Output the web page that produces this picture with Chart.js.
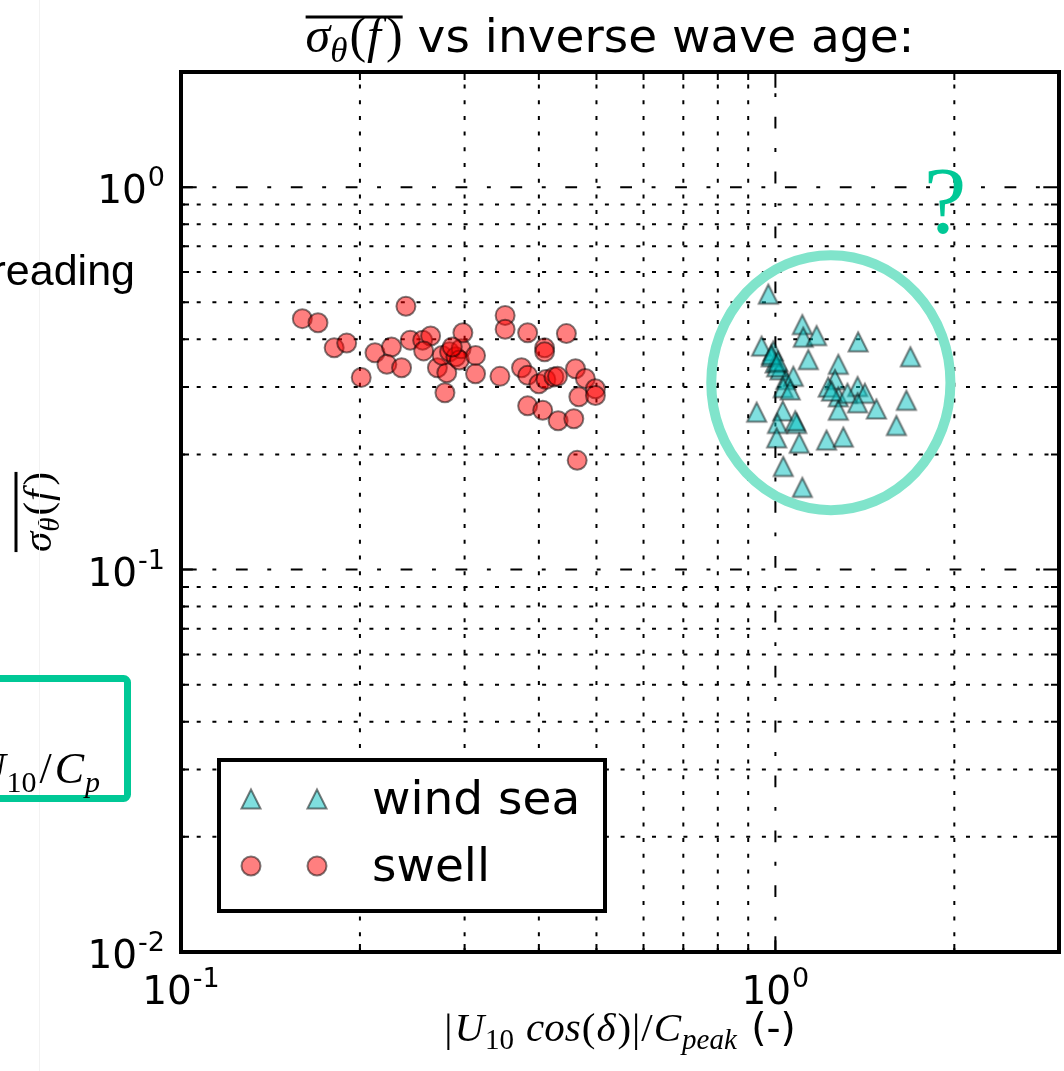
<!DOCTYPE html>
<html>
<head>
<meta charset="utf-8">
<script src="https://cdn.jsdelivr.net/npm/chart.js@4.4.0/dist/chart.umd.min.js"></script>
<style>
  html, body { margin: 0; padding: 0; background: #fff; }
  #wrap { position: relative; width: 1064px; height: 1071px; overflow: hidden; }
</style>
</head>
<body>
<div id="wrap"><canvas id="chart" width="1064" height="1071"></canvas></div>
<script>
'use strict';

// wind sea (triangles)
const windX = [0.973, 1.110, 1.114, 1.173, 1.378, 1.687, 0.948, 0.992, 0.999, 1.018, 1.041, 1.072, 1.031, 1.059, 1.136,
  1.276, 1.260, 1.227, 1.276, 1.375, 1.414, 1.322, 1.276, 1.375, 1.479, 1.661, 1.598, 0.930, 1.029, 1.008, 1.086,
  1.005, 1.097, 1.219, 1.301, 1.031, 1.110, 0.984, 1.005, 1.243, 1.080, 0.985, 1.010];
const windY = [0.525, 0.437, 0.405, 0.409, 0.394, 0.360, 0.384, 0.373, 0.347, 0.333, 0.314, 0.320, 0.299, 0.295, 0.354,
  0.344, 0.314, 0.300, 0.283, 0.301, 0.289, 0.289, 0.261, 0.273, 0.263, 0.277, 0.238, 0.258, 0.260, 0.241, 0.241,
  0.221, 0.214, 0.218, 0.222, 0.186, 0.164, 0.360, 0.339, 0.293, 0.245, 0.365, 0.350];

// swell (circles)
const swellX = [0.160, 0.170, 0.239, 0.181, 0.190, 0.201, 0.212, 0.226, 0.222, 0.235, 0.243, 0.255, 0.263, 0.256, 0.270,
  0.278, 0.280, 0.275, 0.283, 0.290, 0.296, 0.298, 0.294, 0.313, 0.313, 0.286, 0.344, 0.351, 0.351, 0.374, 0.383,
  0.383, 0.383, 0.406, 0.409, 0.409, 0.400, 0.411, 0.424, 0.431, 0.445, 0.458, 0.461, 0.479, 0.467, 0.498, 0.498,
  0.464, 0.430];
const swellY = [0.453, 0.442, 0.488, 0.380, 0.391, 0.318, 0.369, 0.382, 0.344, 0.337, 0.398, 0.398, 0.408, 0.373, 0.337,
  0.290, 0.327, 0.363, 0.371, 0.360, 0.378, 0.416, 0.353, 0.363, 0.325, 0.382, 0.320, 0.462, 0.425, 0.337, 0.416,
  0.322, 0.268, 0.261, 0.380, 0.371, 0.306, 0.314, 0.319, 0.245, 0.414, 0.248, 0.335, 0.316, 0.283, 0.297, 0.285,
  0.193, 0.320];

const xRange = [0.1, 3];
const yRange = [0.01, 2];
const xMajor = [0.1, 1];
const xMinor = [0.2, 0.3, 0.4, 0.5, 0.6, 0.7, 0.8, 0.9, 2, 3];
const yMajor = [0.01, 0.1, 1];
const yMinor = [0.02, 0.03, 0.04, 0.05, 0.06, 0.07, 0.08, 0.09, 0.2, 0.3, 0.4, 0.5, 0.6, 0.7, 0.8, 0.9, 2];
const xTickExp = ['-1', '0'];
const yTickExp = ['-2', '-1', '0'];
const seriesNames = ['wind sea', 'swell'];

// overlay notes from the slide
const ringBox = { xMin: 0.78, xMax: 1.97, yMin: 0.143, yMax: 0.664 };
const askAt = { x: 1.93, y: 0.76 };

const FS = 39;      // tick / label size
const FL = 47;      // title / legend size
const SANS = '"DejaVu Sans"';
const SERIF = '"Liberation Serif"';

function makeTriangle() {
  const c = document.createElement('canvas');
  c.width = 30; c.height = 30;
  const g = c.getContext('2d');
  const h = 9.5;
  g.beginPath();
  g.moveTo(15, 15 - h);
  g.lineTo(15 - h, 15 + h);
  g.lineTo(15 + h, 15 + h);
  g.closePath();
  g.fillStyle = 'rgba(0,191,191,0.5)';
  g.fill();
  g.lineWidth = 2;
  g.strokeStyle = 'rgba(0,0,0,0.5)';
  g.stroke();
  return c;
}
const triMarker = makeTriangle();

function runsWidth(ctx, runs) {
  let w = 0;
  runs.forEach(r => { ctx.font = r.font; w += ctx.measureText(r.t).width + (r.gap || 0); });
  return w;
}
function drawRuns(ctx, runs, x, y) {
  runs.forEach(r => {
    ctx.font = r.font;
    ctx.fillText(r.t, x, y + (r.dy || 0));
    x += ctx.measureText(r.t).width + (r.gap || 0);
  });
  return x;
}

function drawPow(ctx, exp, x, y, align) {
  const runs = [
    { t: '10', font: `${FS}px ${SANS}`, gap: 1 },
    { t: exp, font: `${Math.round(FS * 0.7)}px ${SANS}`, dy: -17 }
  ];
  const w = runsWidth(ctx, runs);
  const x0 = align === 'right' ? x - w : x - w / 2;
  drawRuns(ctx, runs, x0, y);
}

const axesPlugin = {
  id: 'mplAxes',
  beforeDatasetsDraw(chart) {
    const { ctx, chartArea: a, scales } = chart;
    ctx.save();
    ctx.beginPath();
    ctx.rect(a.left, a.top, a.right - a.left, a.bottom - a.top);
    ctx.clip();
    ctx.strokeStyle = '#000';
    ctx.lineWidth = 2;
    const vline = (v, dash) => {
      const p = scales.x.getPixelForValue(v);
      ctx.setLineDash(dash);
      ctx.beginPath(); ctx.moveTo(p, a.bottom); ctx.lineTo(p, a.top); ctx.stroke();
    };
    const hline = (v, dash) => {
      const p = scales.y.getPixelForValue(v);
      ctx.setLineDash(dash);
      ctx.beginPath(); ctx.moveTo(a.left, p); ctx.lineTo(a.right, p); ctx.stroke();
    };
    const dot = [4, 11.7];
    const dashDot = [11.8, 19.6, 3.9, 19.6];
    xMinor.forEach(v => vline(v, dot));
    yMinor.forEach(v => hline(v, dot));
    xMajor.forEach(v => vline(v, dashDot));
    yMajor.forEach(v => hline(v, dashDot));
    ctx.restore();
  },
  afterDraw(chart) {
    const { ctx, chartArea: a, scales } = chart;
    ctx.save();
    ctx.fillStyle = '#000';
    ctx.strokeStyle = '#000';
    ctx.textBaseline = 'alphabetic';

    // inward ticks on all four sides
    ctx.lineWidth = 2;
    const tickX = (v, len) => {
      const p = scales.x.getPixelForValue(v);
      ctx.beginPath();
      ctx.moveTo(p, a.bottom); ctx.lineTo(p, a.bottom - len);
      ctx.moveTo(p, a.top); ctx.lineTo(p, a.top + len);
      ctx.stroke();
    };
    const tickY = (v, len) => {
      const p = scales.y.getPixelForValue(v);
      ctx.beginPath();
      ctx.moveTo(a.left, p); ctx.lineTo(a.left + len, p);
      ctx.moveTo(a.right, p); ctx.lineTo(a.right - len, p);
      ctx.stroke();
    };
    xMinor.forEach(v => tickX(v, 8));
    yMinor.forEach(v => tickY(v, 8));
    xMajor.forEach(v => tickX(v, 15.7));
    yMajor.forEach(v => tickY(v, 15.7));

    // frame
    ctx.lineWidth = 4;
    ctx.strokeRect(a.left, a.top, a.right - a.left, a.bottom - a.top);

    // tick labels
    xMajor.forEach((v, i) => drawPow(ctx, xTickExp[i], scales.x.getPixelForValue(v), a.bottom + 52, 'center'));
    yMajor.forEach((v, i) => drawPow(ctx, yTickExp[i], a.left - 16, scales.y.getPixelForValue(v) + 16, 'right'));

    // title
    const titleMath = [
      { t: 'σ', font: `italic 50px ${SERIF}` },
      { t: 'θ', font: `italic 35px ${SERIF}`, dy: 10, gap: 2 },
      { t: '(', font: `50px ${SERIF}`, gap: 1 },
      { t: 'f', font: `italic 50px ${SERIF}`, gap: 5 },
      { t: ')', font: `50px ${SERIF}` }
    ];
    const titleText = [{ t: ' vs inverse wave age:', font: `${FL}px ${SANS}` }];
    const wm = runsWidth(ctx, titleMath);
    const wt = runsWidth(ctx, titleText);
    const cx = (a.left + a.right) / 2;
    const tx = cx - 10 - (wm + wt) / 2;
    const tEnd = drawRuns(ctx, titleMath, tx, a.top - 20);
    ctx.lineWidth = 3;
    ctx.beginPath(); ctx.moveTo(tx, a.top - 55); ctx.lineTo(tEnd, a.top - 55); ctx.stroke();
    drawRuns(ctx, titleText, tEnd, a.top - 20);

    // x axis label
    const FX = 41;
    const sub = Math.round(FX * 0.7);
    const xl = [
      { t: '|', font: `${FX}px ${SERIF}`, gap: 2 },
      { t: 'U', font: `italic ${FX}px ${SERIF}`, gap: 1 },
      { t: '10', font: `${sub}px ${SERIF}`, dy: 8, gap: 12 },
      { t: 'cos', font: `italic ${FX}px ${SERIF}`, gap: 1 },
      { t: '(', font: `${FX}px ${SERIF}`, gap: 1 },
      { t: 'δ', font: `italic ${FX}px ${SERIF}`, gap: 2 },
      { t: ')', font: `${FX}px ${SERIF}`, gap: 1 },
      { t: '|', font: `${FX}px ${SERIF}`, gap: 1 },
      { t: '/', font: `${FX}px ${SERIF}`, gap: 1 },
      { t: 'C', font: `italic ${FX}px ${SERIF}`, gap: 1 },
      { t: 'peak', font: `italic ${sub}px ${SERIF}`, dy: 8, gap: 2 },
      { t: ' (-)', font: `${FS}px ${SANS}` }
    ];
    drawRuns(ctx, xl, cx - runsWidth(ctx, xl) / 2, a.bottom + 89);

    // y axis label (rotated)
    const yl = [
      { t: 'σ', font: `italic ${FX}px ${SERIF}` },
      { t: 'θ', font: `italic ${sub}px ${SERIF}`, dy: 8, gap: 2 },
      { t: '(', font: `${FX}px ${SERIF}`, gap: 1 },
      { t: 'f', font: `italic ${FX}px ${SERIF}`, gap: 4 },
      { t: ')', font: `${FX}px ${SERIF}` }
    ];
    ctx.save();
    ctx.translate(51, (a.top + a.bottom) / 2);
    ctx.rotate(-Math.PI / 2);
    const wy = runsWidth(ctx, yl);
    const yEnd = drawRuns(ctx, yl, -wy / 2, 0);
    ctx.lineWidth = 3;
    ctx.beginPath(); ctx.moveTo(-wy / 2, -35); ctx.lineTo(yEnd, -35); ctx.stroke();
    ctx.restore();

    // legend
    const lg = { x: 219, y: 760, w: 386, h: 151 };
    ctx.fillStyle = '#fff';
    ctx.fillRect(lg.x, lg.y, lg.w, lg.h);
    ctx.lineWidth = 4;
    ctx.strokeRect(lg.x, lg.y, lg.w, lg.h);
    [251, 317].forEach(mx => {
      ctx.drawImage(triMarker, mx - 15, 799 - 15);
      ctx.beginPath();
      ctx.arc(mx, 866, 9.5, 0, Math.PI * 2);
      ctx.fillStyle = 'rgba(255,0,0,0.5)';
      ctx.fill();
      ctx.lineWidth = 2;
      ctx.strokeStyle = 'rgba(0,0,0,0.5)';
      ctx.stroke();
    });
    ctx.fillStyle = '#000';
    ctx.font = `${FL}px ${SANS}`;
    ctx.fillText(seriesNames[0], 372, 814);
    ctx.fillText(seriesNames[1], 372, 881);

    // slide overlays: ring and question mark
    const rx1 = scales.x.getPixelForValue(ringBox.xMin), rx2 = scales.x.getPixelForValue(ringBox.xMax);
    const ry1 = scales.y.getPixelForValue(ringBox.yMax), ry2 = scales.y.getPixelForValue(ringBox.yMin);
    ctx.beginPath();
    ctx.ellipse((rx1 + rx2) / 2, (ry1 + ry2) / 2, (rx2 - rx1) / 2, (ry2 - ry1) / 2, 0, 0, Math.PI * 2);
    ctx.lineWidth = 10;
    ctx.strokeStyle = '#80e4cb';
    ctx.stroke();

    ctx.fillStyle = '#00c896';
    ctx.font = `96px ${SERIF}`;
    ctx.textAlign = 'center';
    ctx.fillText('?', scales.x.getPixelForValue(askAt.x), scales.y.getPixelForValue(askAt.y));
    ctx.textAlign = 'left';

    // left side of the slide (cut off)
    ctx.fillStyle = '#f2f2f2';
    ctx.fillRect(39, 0, 1, chart.height);
    ctx.fillStyle = '#000';
    ctx.font = '43px "Liberation Sans"';
    ctx.textAlign = 'right';
    ctx.fillText('reading', 135, 285);
    ctx.textAlign = 'left';

    ctx.lineWidth = 7;
    ctx.strokeStyle = '#00c896';
    ctx.beginPath();
    ctx.roundRect(-30, 678.5, 157.5, 120, 4);
    ctx.stroke();
    const note = [
      { t: 'U', font: `italic 44px ${SERIF}`, gap: 1 },
      { t: '10', font: `30px ${SERIF}`, dy: 9, gap: 3 },
      { t: '/', font: `44px ${SERIF}`, gap: 3 },
      { t: 'C', font: `italic 44px ${SERIF}`, gap: 1 },
      { t: 'p', font: `italic 30px ${SERIF}`, dy: 9 }
    ];
    ctx.fillStyle = '#000';
    drawRuns(ctx, note, 100 - runsWidth(ctx, note), 783);

    ctx.restore();
  }
};

new Chart(document.getElementById('chart'), {
  type: 'scatter',
  data: {
    datasets: [
      {
        label: seriesNames[0],
        data: windX.map((x, i) => ({ x, y: windY[i] })),
        pointStyle: triMarker,
        pointRadius: 10
      },
      {
        label: seriesNames[1],
        data: swellX.map((x, i) => ({ x, y: swellY[i] })),
        pointStyle: 'circle',
        pointRadius: 9.5,
        backgroundColor: 'rgba(255,0,0,0.5)',
        borderColor: 'rgba(0,0,0,0.5)',
        borderWidth: 2
      }
    ]
  },
  options: {
    responsive: false,
    animation: false,
    devicePixelRatio: 1,
    layout: { autoPadding: false, padding: { left: 181, right: 5, top: 72, bottom: 119 } },
    plugins: { legend: { display: false }, tooltip: { enabled: false }, title: { display: false } },
    events: [],
    scales: {
      x: { type: 'logarithmic', min: xRange[0], max: xRange[1], display: false },
      y: { type: 'logarithmic', min: yRange[0], max: yRange[1], display: false }
    }
  },
  plugins: [axesPlugin]
});
</script>
</body>
</html>
